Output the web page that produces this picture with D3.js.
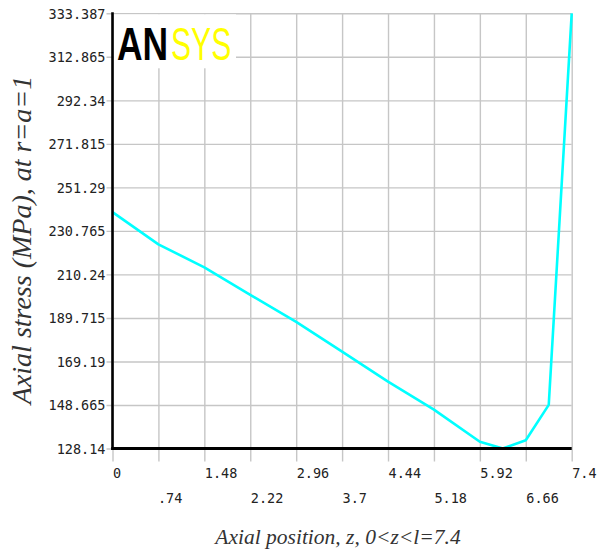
<!DOCTYPE html>
<html>
<head>
<meta charset="utf-8">
<script src="https://cdn.jsdelivr.net/npm/d3@7/dist/d3.min.js"></script>
<style>
  html, body { margin: 0; padding: 0; background: #ffffff; }
  svg { display: block; }
</style>
</head>
<body>
<svg id="chart" width="607" height="554"></svg>
<script>
// ---- data ----
const zPositions = [0, 0.74, 1.48, 2.22, 2.96, 3.7, 4.44, 5.18, 5.92, 6.29, 6.66, 7.03, 7.4];
const axialStress = [239.6, 224.4, 213.6, 200.6, 187.9, 173.8, 159.7, 146.5, 131.3, 128.14, 132.0, 148.7, 333.387];

const xTickValues = [0, 0.74, 1.48, 2.22, 2.96, 3.7, 4.44, 5.18, 5.92, 6.66, 7.4];
const xTickLabels = ["0", ".74", "1.48", "2.22", "2.96", "3.7", "4.44", "5.18", "5.92", "6.66", "7.4"];
const yTickValues = [128.14, 148.665, 169.19, 189.715, 210.24, 230.765, 251.29, 271.815, 292.34, 312.865, 333.387];
const yTickLabels = ["128.14", "148.665", "169.19", "189.715", "210.24", "230.765", "251.29", "271.815", "292.34", "312.865", "333.387"];

const xTitle = "Axial position, z, 0<z<l=7.4";
const yTitle = "Axial stress (MPa), at r=a=1";

// ---- layout ----
const plotL = 112.5, plotR = 571.7, plotT = 13.3, plotB = 448.5;
const svg = d3.select("#chart");

const x = d3.scaleLinear().domain([0, 7.4]).range([plotL, plotR]);
const y = d3.scaleLinear().domain([128.14, 333.387]).range([plotB, plotT]);

const gridColor = "#c6c6c6";
const tickFont = "'DejaVu Sans Mono', 'Liberation Mono', monospace";

// y grid + labels
const yAxis = d3.axisLeft(y)
  .tickValues(yTickValues)
  .tickFormat((d, i) => yTickLabels[i])
  .tickSize(-(plotR - plotL + 6))
  .tickPadding(1);
const gy = svg.append("g").attr("transform", `translate(${plotL - 6},0)`).call(yAxis);
gy.select(".domain").remove();
gy.selectAll(".tick line").attr("stroke", gridColor).attr("stroke-width", 1.4);
gy.selectAll(".tick text")
  .attr("font-family", tickFont).attr("font-size", 13.5).attr("fill", "#222")
  .attr("dy", "0.35em");

// x grid + labels
const xAxis = d3.axisBottom(x)
  .tickValues(xTickValues)
  .tickFormat((d, i) => xTickLabels[i])
  .tickSize(-(plotB - plotT + 13))
  .tickPadding(0);
const gx = svg.append("g").attr("transform", `translate(0,${plotB + 13})`).call(xAxis);
gx.select(".domain").remove();
gx.selectAll(".tick line").attr("stroke", gridColor).attr("stroke-width", 1.4);
gx.selectAll(".tick text")
  .attr("font-family", tickFont).attr("font-size", 13.5).attr("fill", "#222")
  .attr("text-anchor", "start")
  .attr("y", (d, i) => i % 2 === 0 ? 16 : 41)
  .attr("dy", "0")
  .attr("x", (d, i) => i === 1 ? -1 : 0);

// white box behind logo
svg.append("rect")
  .attr("x", plotL + 1.5).attr("y", plotT + 1)
  .attr("width", 122).attr("height", 54)
  .attr("fill", "#ffffff");

// logo (condensed via horizontal scaling)
svg.append("text")
  .attr("transform", "translate(117,60) scale(0.77,1)")
  .attr("font-family", "'Liberation Sans', Arial, sans-serif")
  .attr("font-weight", "bold").attr("font-size", 46)
  .attr("fill", "#000000").text("AN");
svg.append("text")
  .attr("transform", "translate(171,60) scale(0.655,1)")
  .attr("font-family", "'Liberation Sans', Arial, sans-serif")
  .attr("font-size", 46)
  .attr("fill", "#ffff00").text("SYS");

// curve
const line = d3.line().x((d, i) => x(zPositions[i])).y(d => y(d));
svg.append("path")
  .datum(axialStress)
  .attr("d", line)
  .attr("fill", "none")
  .attr("stroke", "#00ffff")
  .attr("stroke-width", 2.6)
  .attr("stroke-linejoin", "round");

// black axes
svg.append("line")
  .attr("x1", plotL).attr("x2", plotL).attr("y1", plotT - 1).attr("y2", plotB + 1.5)
  .attr("stroke", "#000").attr("stroke-width", 2.6);
svg.append("line")
  .attr("x1", plotL - 1.3).attr("x2", plotR).attr("y1", plotB).attr("y2", plotB)
  .attr("stroke", "#000").attr("stroke-width", 3.2);

// axis titles
svg.append("text")
  .attr("x", 338).attr("y", 544)
  .attr("text-anchor", "middle")
  .attr("font-family", "'Liberation Serif', 'Times New Roman', serif")
  .attr("font-style", "italic").attr("font-size", 21.5)
  .attr("fill", "#333").text(xTitle);
svg.append("text")
  .attr("transform", "translate(31,240) rotate(-90)")
  .attr("text-anchor", "middle")
  .attr("font-family", "'Liberation Serif', 'Times New Roman', serif")
  .attr("font-style", "italic").attr("font-size", 28)
  .attr("fill", "#333").text(yTitle);
</script>
</body>
</html>
